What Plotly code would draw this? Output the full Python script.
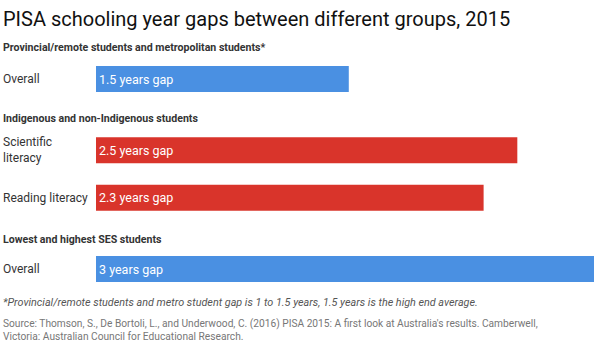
import plotly.graph_objects as go

W, H = 594, 345

groups = ["Provincial/remote students and metropolitan students*",
          "Indigenous and non-Indigenous students",
          "Lowest and highest SES students"]
row_labels = ["Overall", "Scientific<br>literacy", "Reading literacy", "Overall"]
row_group = [0, 1, 1, 2]
values = [1.5, 2.5, 2.3, 3.0]
bar_text = ["1.5 years gap", "2.5 years gap", "2.3 years gap", "3 years gap"]
bar_colors = ["#4a90e2", "#d9342b", "#d9342b", "#4a90e2"]

title = "PISA schooling year gaps between different groups, 2015"
footnote = "*Provincial/remote students and metro student gap is 1 to 1.5 years, 1.5 years is the high end average."
source = ("Source: Thomson, S., De Bortoli, L., and Underwood, C. (2016) PISA 2015: A first look at Australia's results. Camberwell,"
          "<br>Victoria: Australian Council for Educational Research.")

# row positions: one unit per bar plus half a unit extra between groups
pos = [i + 0.5 * g for i, g in enumerate(row_group)]

UNIT = 47.5      # px per unit
TOP0 = 79        # px of first bar center
y_top = -TOP0 / UNIT
y_bot = (H - TOP0) / UNIT

FONT = "Roboto"

fig = go.Figure(go.Bar(
    x=values, y=pos, orientation="h", width=0.55,
    marker=dict(color=bar_colors, line=dict(width=0)),
    text=bar_text, textposition="inside", insidetextanchor="start",
    textfont=dict(family=FONT, size=12.5, color="white"),
    hoverinfo="skip",
))

def py(px):
    return 1 - px / H

def pxx(px):
    return px / W

ann = []
ann.append(dict(text=title, x=pxx(1), y=py(19), font=dict(family=FONT, size=20, color="#111")))
group_y = [48, 119, 239]
for g, gy in zip(groups, group_y):
    ann.append(dict(text="<b>" + g + "</b>", x=pxx(1), y=py(gy), font=dict(family=FONT, size=10.6, color="#333")))
for lab, p in zip(row_labels, pos):
    cy = TOP0 + p * UNIT
    ann.append(dict(text=lab, x=pxx(1), y=py(cy), font=dict(family=FONT, size=12, color="#333")))
ann.append(dict(text="<i>" + footnote + "</i>", x=pxx(1), y=py(302), font=dict(family=FONT, size=10.8, color="#555")))
ann.append(dict(text=source, x=pxx(1), y=py(330), font=dict(family=FONT, size=10.2, color="#777")))
for a in ann:
    a.update(xref="paper", yref="paper", xanchor="left", yanchor="middle", showarrow=False, align="left")

fig.update_layout(
    width=W, height=H,
    margin=dict(l=0, r=0, t=0, b=0),
    paper_bgcolor="white", plot_bgcolor="white",
    showlegend=False,
    xaxis=dict(domain=[96 / W, 1], range=[0, 2.955], visible=False, fixedrange=True),
    yaxis=dict(range=[y_bot, y_top], visible=False, fixedrange=True),
    annotations=ann,
    uniformtext=dict(mode=False),
)

fig.write_html("out.html", config={"displayModeBar": False})
